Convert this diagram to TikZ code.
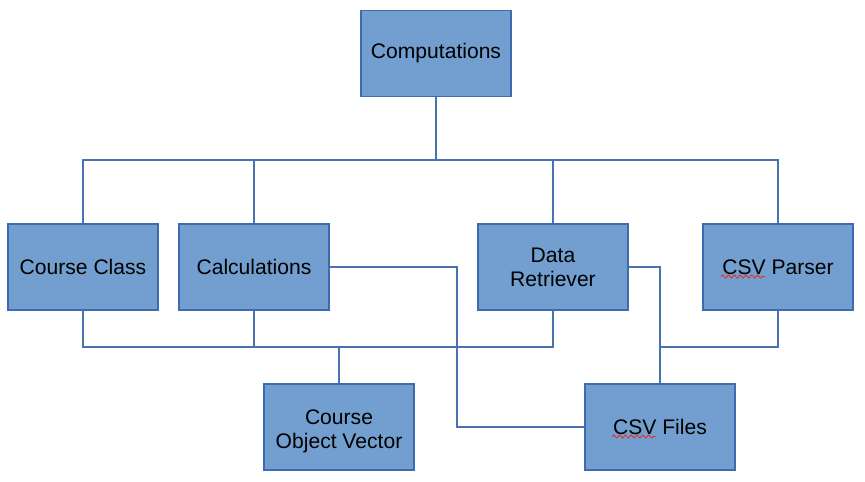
\documentclass[tikz,border=0pt]{standalone}
\usepackage{fontspec}
\setmainfont{Liberation Sans}
\usetikzlibrary{decorations.pathmorphing}
\definecolor{boxfill}{HTML}{729FCF}
\definecolor{boxline}{HTML}{3D6BAE}
\definecolor{wire}{HTML}{4A72B0}
\definecolor{spell}{HTML}{E0302A}
\begin{document}
\begin{tikzpicture}[x=0.02cm, y=-0.02cm,
    box/.style={draw=boxline, fill=boxfill, line width=0.7pt, minimum width=3cm, minimum height=1.72cm,
                inner sep=0pt, align=center, font=\fontsize{12}{13.6}\selectfont},
    wire/.style={draw=wire, line width=0.6pt},
    squiggle/.style={draw=spell, line width=0.5pt, decorate, decoration={snake, amplitude=0.9pt, segment length=3.3pt}}]
    \useasboundingbox (0,0) rectangle (865,482);

    % top level
    \node[box] (comp) at (436,53.5) {Computations};

    % second row
    \node[box] (course) at (83,267) {Course Class};
    \node[box] (calc) at (254,267) {Calculations};
    \node[box] (retr) at (553,267) {Data\\Retriever};
    \node[box] (parser) at (778,267) {CSV Parser};

    % bottom row
    \node[box] (vector) at (339,427) {\\[-0.3pt]Course\\Object Vector};
    \node[box] (files) at (660,427) {CSV Files};

    \coordinate (top) at (83,160);
    \coordinate (low) at (83,347);
    \coordinate (jog) at (457,0);

    % tree from Computations
    \draw[wire, line width=1.2pt] (comp.south) -- (comp.south |- top);
    \draw[wire] (course.north) -- (top) -- (parser.north |- top) -- (parser.north);
    \draw[wire] (calc.north) -- (calc.north |- top);
    \draw[wire] (retr.north) -- (retr.north |- top);

    % lines into the vector
    \draw[wire] (course.south) -- (low) -- (retr.south |- low) -- (retr.south);
    \draw[wire] (calc.south) -- (calc.south |- low);
    \draw[wire, line width=0.9pt] (vector.north) -- (vector.north |- low);

    % lines into the csv files
    \draw[wire] (calc.east) -- (calc.east -| jog) |- (files.west);
    \draw[wire] (retr.east) -| (files.north);
    \draw[wire] (parser.south) |- (files.north |- low);

    % spell check marks
    \draw[squiggle] (721,276.5) -- (765,276.5);
    \draw[squiggle] (612,436.5) -- (656,436.5);
\end{tikzpicture}
\end{document}
